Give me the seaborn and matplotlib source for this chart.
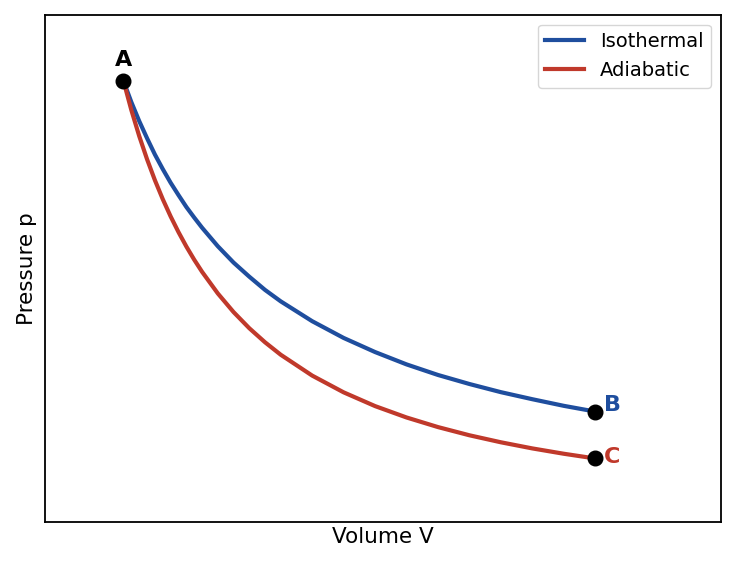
import matplotlib
matplotlib.use("Agg")
import matplotlib.pyplot as plt
import pandas as pd
import seaborn as sns

# Values (volume vs pressure, normalised to state A)
volume = [1.0, 1.05, 1.1, 1.15, 1.2, 1.25, 1.3, 1.35, 1.4, 1.45, 1.5, 1.6, 1.7, 1.8, 1.9, 2.0,
          2.2, 2.4, 2.6, 2.8, 3.0, 3.2, 3.4, 3.6, 3.8, 4.0]
p_isothermal = [1.0, 0.952, 0.909, 0.870, 0.833, 0.800, 0.769, 0.741, 0.714, 0.690, 0.667,
                0.625, 0.588, 0.556, 0.526, 0.5,
                0.455, 0.417, 0.385, 0.357, 0.333, 0.3125, 0.294, 0.278, 0.263, 0.25]
p_adiabatic = [1.0, 0.9340, 0.8751, 0.8223, 0.7747, 0.7317, 0.6926, 0.6570, 0.6243, 0.5944, 0.5669,
               0.5179, 0.4757, 0.4391, 0.4072, 0.3789,
               0.3316, 0.2936, 0.2624, 0.2366, 0.2148, 0.1962, 0.1803, 0.1664, 0.1543, 0.1436]

state_names = ["A", "B", "C"]
state_v = [1.0, 4.0, 4.0]
state_p = [1.0, 0.25, 0.1436]

series_names = ["Isothermal", "Adiabatic"]
series_colors = ["#1f4e9e", "#c0392b"]

plt.rcParams["font.family"] = ["DejaVu Sans"]

df = pd.DataFrame({
    "V": volume * 2,
    "p": p_isothermal + p_adiabatic,
    "process": [series_names[0]] * len(volume) + [series_names[1]] * len(volume),
})

fig, ax = plt.subplots(figsize=(7.35, 5.69), dpi=100)
fig.subplots_adjust(left=0.061, right=0.981, top=0.974, bottom=0.083)

sns.lineplot(data=df, x="V", y="p", hue="process", palette=series_colors,
             linewidth=3, ax=ax, sort=False)

ax.plot(state_v, state_p, "o", color="black", markersize=10.5, zorder=5)

# state labels
ax.annotate(state_names[0], (state_v[0], state_p[0]), xytext=(0, 8),
            textcoords="offset points", ha="center", va="bottom",
            fontsize=16, fontweight="bold", color="black")
ax.annotate(state_names[1], (state_v[1], state_p[1]), xytext=(6.5, 5),
            textcoords="offset points", ha="left", va="center",
            fontsize=16, fontweight="bold", color=series_colors[0])
ax.annotate(state_names[2], (state_v[2], state_p[2]), xytext=(6.5, 1),
            textcoords="offset points", ha="left", va="center",
            fontsize=16, fontweight="bold", color=series_colors[1])

ax.set_xlim(0.5, 4.8)
ax.set_ylim(0, 1.15)
ax.set_xticks([])
ax.set_yticks([])
ax.set_xlabel("Volume V", fontsize=15.5, labelpad=4)
ax.set_ylabel("Pressure p", fontsize=15.5, labelpad=6)
for s in ax.spines.values():
    s.set_color("black")
    s.set_linewidth(1.3)

ax.legend(loc="upper right", fontsize=14, title=None, frameon=True)

fig.savefig("out.png", dpi=100)
